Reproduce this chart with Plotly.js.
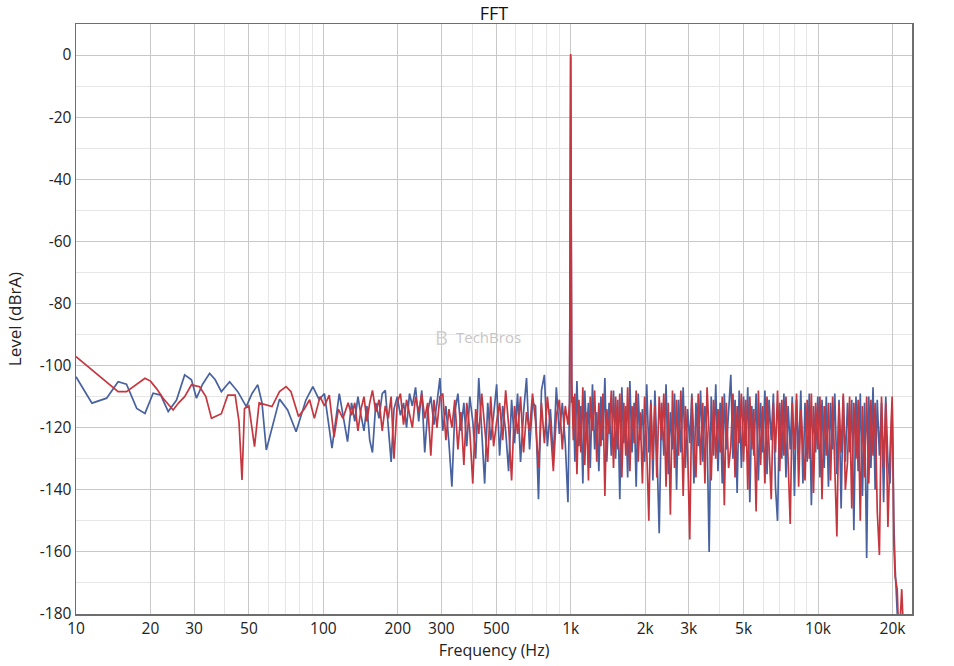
<!DOCTYPE html>
<html>
<head>
<meta charset="utf-8">
<script src="https://cdn.plot.ly/plotly-3.0.1.min.js"></script>
<style>html,body{margin:0;padding:0;background:#fff;}#chart{width:954px;height:666px;}</style>
</head>
<body>
<div id="chart"></div>
<script>
// ---- Data ----
var lowFreqBlue = [10, 11.6, 13.3, 14.8, 16.0, 17.6, 19.0, 20.5, 22.0, 23.6, 25.5, 27.5, 29.3, 30.7, 32.5, 34.7, 36.5, 38.7, 41.8, 45.1, 48.8, 51.5, 54.3, 56.5, 58.8, 62.3, 66.5, 71.7, 77.6, 85, 90.7, 96.2, 101, 108.4, 116, 125.3];
var lowLevelBlue = [-103.6, -112.1, -110.5, -105.2, -106, -113.8, -115.4, -108.9, -109.5, -114.8, -111.1, -103, -104.6, -110.5, -106, -102.5, -104.5, -108.4, -105.2, -108.4, -113.2, -109, -106.2, -112, -127.2, -119.1, -110.8, -114.3, -121.3, -111.1, -106.8, -111, -109, -126.6, -109, -124.5];

var lowFreqRed = [10, 12.1, 14.8, 16.0, 17.5, 19.0, 20.0, 21.2, 22.5, 24.7, 26.0, 27.5, 29.3, 31.6, 33.5, 35.3, 38.7, 41.1, 44.0, 45.6, 46.9, 48.0, 50.0, 52.7, 55, 58, 62, 66.5, 70.7, 74, 79.4, 84, 88, 92, 97, 101, 105.7, 110.5, 115, 120, 126];
var lowLevelRed = [-97.1, -102.5, -108.4, -108.4, -106, -104.1, -105, -107.5, -110.5, -114.3, -112, -110, -106.2, -106.8, -110, -117, -115.5, -109.5, -109.5, -118, -136.8, -113.8, -113, -126.1, -112, -112.5, -113.2, -108.4, -106.8, -108.4, -116.4, -113.8, -111, -117, -110, -113, -109.5, -123, -114, -117, -112];

var bandFreq = [
  130,134,138,142,146,150,154,158,163,168,173,178,183,188,193,199,205,211,217,223,229,236,243,250,257,264,272,280,288,296,304,313,322,331,340,350,360,370,380,391,402,413,425,437,449,462,475,488,502,516,531,546,561,577,593,610,627,645,663,682,701,721,741,762,783,805,828,851,875,900,925,951,975,990,1000,1010,
  1025,1040,1060,1080,1100,1120,1140,1160,1180,1200,
  1225,1250,1275,1300,1325,1350,1375,1400,1430,1460,
  1490,1520,1550,1580,1610,1640,1670,1700,1735,1770,
  1805,1840,1875,1910,1950,1990,2030,2070,2110,2150,
  2190,2230,2280,2330,2380,2430,2480,2530,2580,2630,
  2680,2730,2790,2850,2910,2970,3030,3090,3150,3210,
  3280,3350,3420,3490,3560,3630,3700,3780,3860,3940,
  4020,4100,4180,4260,4350,4440,4530,4620,4710,4800,
  4900,5000,5100,5200,5300,5400,5500,5620,5740,5860,
  5980,6100,6220,6340,6470,6600,6730,6860,7000,7140,
  7280,7420,7570,7720,7870,8030,8190,8350,8520,8690,
  8860,9040,9220,9400,9590,9780,9980,10180,10380,10590,
  10800,11020,11240,11460,11690,11920,12160,12400,12650,12900,
  13160,13420,13690,13960,14240,14530,14820,15120,15420,15730,
  16040,16360,16690,17020,17360,17710,18060,18420,18790,19170,
  19550,19940,
  20100,20250,20500,20900,21200,21500,21800,22100,22400,22800,23200
];
var bandLevelBlue = [
  -112,-118,-110,-116,-121,-113,-124,-128,-112,-117,-109,-108,-119,-131,-114,-110,-116,-112,-120,-109,-113,-107,-118,-108,-128,-115,-110,-119,-112,-104,-121,-113,-125,-139,-115,-109,-121,-112,-126,-110,-118,-130,-104,-120,-138,-112,-124,-116,-106,-129,-113,-121,-134,-111,-125,-109,-131,-115,-104,-127,-112,-113,-143,-108,-103,-126,-114,-130,-107,-122,-112,-125,-144,-110,-0.5,-112,
  -110,-131,-105,-126,-113,-138,-108,-122,-112,-133,
  -106,-127,-115,-134,-110,-124,-104,-131,-112,-129,
  -108,-130,-111,-143,-107,-125,-113,-136,-105,-128,
  -112,-139,-109,-124,-114,-131,-106,-128,-111,-137,
  -108,-126,-154,-112,-129,-106,-135,-115,-127,-109,
  -140,-111,-128,-107,-133,-114,-125,-109,-138,-112,
  -126,-108,-131,-113,-122,-160,-110,-129,-106,-134,
  -112,-138,-109,-127,-115,-103,-130,-111,-141,-108,
  -133,-110,-126,-107,-144,-113,-129,-109,-137,-112,
  -128,-108,-135,-111,-124,-109,-139,-150,-112,-130,
  -109,-136,-113,-127,-110,-142,-111,-129,-108,-138,
  -112,-131,-109,-145,-113,-128,-110,-136,-111,-133,
  -110,-139,-112,-127,-109,-135,-111,-146,-110,-131,
  -112,-128,-111,-153,-110,-134,-109,-142,-112,-162,
  -110,-133,-107,-140,-111,-129,-112,-144,-110,-131,
  -138,-112,
  -128,-150,-165,-178,-190,-181,-192,-185,-196,-200,-200
];
var bandLevelRed = [
  -116,-112,-121,-114,-110,-118,-112,-108,-115,-111,-121,-113,-117,-110,-130,-112,-109,-119,-111,-116,-120,-110,-115,-109,-117,-112,-129,-111,-120,-110,-109,-124,-114,-120,-111,-127,-115,-132,-112,-121,-138,-114,-122,-109,-119,-131,-110,-126,-118,-112,-124,-108,-119,-137,-113,-122,-110,-128,-115,-121,-109,-118,-133,-112,-125,-110,-120,-134,-116,-111,-127,-113,-119,-112,0.3,-105,
  -124,-109,-135,-111,-128,-107,-132,-115,-137,-110,
  -121,-108,-131,-112,-126,-109,-142,-114,-122,-108,
  -133,-110,-127,-109,-136,-112,-129,-107,-134,-113,
  -125,-108,-131,-115,-138,-110,-127,-150,-112,-130,
  -113,-136,-110,-124,-109,-139,-112,-148,-108,-133,
  -111,-129,-108,-142,-113,-127,-156,-110,-124,-136,
  -109,-132,-112,-138,-107,-125,-137,-111,-130,-114,
  -128,-110,-145,-112,-133,-126,-109,-136,-113,-125,
  -109,-131,-111,-140,-110,-127,-114,-147,-108,-132,
  -113,-138,-110,-126,-143,-112,-128,-108,-134,-111,
  -129,-110,-135,-151,-112,-127,-109,-139,-114,-126,
  -137,-111,-130,-109,-141,-112,-127,-110,-143,-113,
  -129,-112,-137,-110,-133,-155,-112,-128,-109,-140,
  -131,-110,-146,-112,-130,-111,-150,-113,-136,-110,
  -138,-111,-129,-112,-147,-161,-110,-133,-112,-152,
  -128,-110,
  -131,-157,-168,-172,-187,-182,-172,-189,-195,-200,-200
];

var xTickVals = [10, 20, 30, 50, 100, 200, 300, 500, 1000, 2000, 3000, 5000, 10000, 20000];
var xTickText = ['10', '20', '30', '50', '100', '200', '300', '500', '1k', '2k', '3k', '5k', '10k', '20k'];
var xMinorVals = [40, 60, 70, 80, 90, 400, 600, 700, 800, 900, 4000, 6000, 7000, 8000, 9000];
var yTickVals = [0, -20, -40, -60, -80, -100, -120, -140, -160, -180];
var yTickText = ['0', '-20', '-40', '-60', '-80', '-100', '-120', '-140', '-160', '-180'];
var yMinorVals = [-10, -30, -50, -70, -90, -110, -130, -150, -170];

// ---- Build traces ----
var blueX = lowFreqBlue.concat(bandFreq);
var blueY = lowLevelBlue.concat(bandLevelBlue);
var redX = lowFreqRed.concat(bandFreq);
var redY = lowLevelRed.concat(bandLevelRed);

var font = 'Open Sans, Noto Sans, sans-serif';

var traces = [
  {x: blueX, y: blueY, type: 'scatter', mode: 'lines', line: {color: '#4862a0', width: 1.7}, hoverinfo: 'skip', showlegend: false},
  {x: redX, y: redY, type: 'scatter', mode: 'lines', line: {color: '#c6363f', width: 1.7}, hoverinfo: 'skip', showlegend: false}
];

var layout = {
  width: 954, height: 666,
  margin: {l: 76, r: 42, t: 24, b: 52},
  paper_bgcolor: '#ffffff', plot_bgcolor: '#ffffff',
  font: {family: font, color: '#222'},
  title: {text: 'FFT', font: {family: font, size: 18, color: '#111'}, x: 0.5, xref: 'paper', y: 0.979, yref: 'container', yanchor: 'middle'},
  showlegend: false,
  xaxis: {
    type: 'log', range: [1, 4.38], autorange: false,
    tickmode: 'array', tickvals: xTickVals, ticktext: xTickText,
    showgrid: true, gridcolor: '#c8c8c8', gridwidth: 1,
    minor: {tickmode: 'array', tickvals: xMinorVals, showgrid: true, gridcolor: '#e6e6e6', gridwidth: 1, ticks: ''},
    showline: true, linecolor: '#6e6e6e', linewidth: 1.5, mirror: true,
    ticks: '', zeroline: false,
    tickfont: {family: font, size: 15.5, color: '#222'},
    title: {text: 'Frequency (Hz)', font: {family: font, size: 16, color: '#222'}, standoff: 2}
  },
  yaxis: {
    range: [-180, 10], autorange: false,
    tickmode: 'array', tickvals: yTickVals, ticktext: yTickText,
    showgrid: true, gridcolor: '#c8c8c8', gridwidth: 1,
    minor: {tickmode: 'array', tickvals: yMinorVals, showgrid: true, gridcolor: '#e6e6e6', gridwidth: 1, ticks: ''},
    showline: true, linecolor: '#6e6e6e', linewidth: 1.5, mirror: true,
    ticks: '', zeroline: false,
    tickfont: {family: font, size: 15.5, color: '#222'},
    title: {text: 'Level (dBrA)', font: {family: font, size: 17, color: '#222'}, standoff: 14}
  },
  annotations: [
    {xref: 'paper', yref: 'paper', x: 0.437, y: 0.469, text: 'B', showarrow: false, font: {family: font, size: 20, color: '#d0d0d0'}},
    {xref: 'paper', yref: 'paper', x: 0.493, y: 0.469, text: 'TechBros', showarrow: false, font: {family: font, size: 15, color: '#c6c6c6'}}
  ]
};

Plotly.newPlot('chart', traces, layout, {staticPlot: true, displayModeBar: false});
</script>
</body>
</html>
